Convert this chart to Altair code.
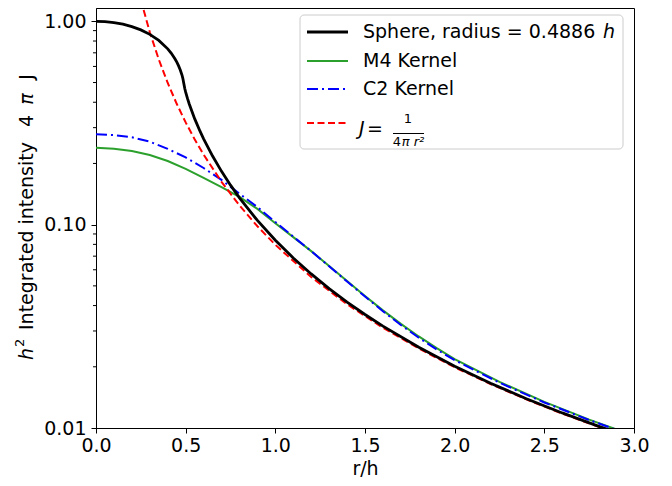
import altair as alt
import pandas as pd

# ---------------- data ----------------
r_sphere = [0.0, 0.05, 0.1, 0.15, 0.2, 0.25, 0.3, 0.35, 0.4, 0.42, 0.44, 0.45, 0.46,
            0.47, 0.48, 0.485, 0.4886, 0.495, 0.5, 0.51, 0.52, 0.55, 0.58, 0.6, 0.65,
            0.7, 0.75, 0.8, 0.9, 1.0, 1.1, 1.2, 1.3, 1.4, 1.5, 1.6, 1.8, 2.0, 2.2, 2.4,
            2.6, 2.8, 3.0]
j_sphere = [1.0, 0.9965, 0.9859, 0.968, 0.9421, 0.9076, 0.8629, 0.8059, 0.7322, 0.6962,
            0.6548, 0.6315, 0.6057, 0.5765, 0.5419, 0.5207, 0.5, 0.4672, 0.4485, 0.4176,
            0.3919, 0.3322, 0.2881, 0.2643, 0.2174, 0.1829, 0.1564, 0.1355, 0.1049,
            0.0838, 0.06861, 0.05724, 0.0485, 0.04164, 0.03615, 0.03169, 0.02493,
            0.02014, 0.01661, 0.01393, 0.01186, 0.01021, 0.00889]

r_kernel = [0.0, 0.1, 0.2, 0.3, 0.4, 0.5, 0.6, 0.7, 0.8, 0.9, 1.0, 1.1, 1.2, 1.3, 1.4,
            1.5, 1.6, 1.7, 1.8, 1.9, 2.0, 2.25, 2.5, 2.75, 3.0]
j_m4 = [0.2387, 0.2365, 0.23, 0.22, 0.2055, 0.188, 0.17, 0.153, 0.137, 0.1195, 0.1017,
        0.0868, 0.0741, 0.0626, 0.0528, 0.0446, 0.0379, 0.0325, 0.0282, 0.0247, 0.02184,
        0.016848, 0.013443, 0.010994, 0.009167]
j_c2 = [0.2785, 0.2755, 0.269, 0.256, 0.236, 0.214, 0.19, 0.166, 0.142, 0.122, 0.103,
        0.0873, 0.0741, 0.0624, 0.0525, 0.0443, 0.0375, 0.0321, 0.0278, 0.0243, 0.02157,
        0.0167, 0.013352, 0.010936, 0.009128]

r_point = [0.25, 0.3, 0.35, 0.4, 0.45, 0.5, 0.55, 0.6, 0.7, 0.8, 0.9, 1.0, 1.2, 1.4, 1.6,
           1.8, 2.0, 2.2, 2.4, 2.6, 2.8, 3.0]
j_point = [1.2732, 0.8842, 0.6496, 0.4974, 0.393, 0.3183, 0.2631, 0.221, 0.1624, 0.1243,
           0.0982, 0.0796, 0.0553, 0.0406, 0.0311, 0.0246, 0.0199, 0.01644, 0.01382,
           0.01177, 0.01015, 0.00884]

x_ticks = [0.0, 0.5, 1.0, 1.5, 2.0, 2.5, 3.0]
y_major = [0.01, 0.1, 1.0]
y_minor = [0.02, 0.03, 0.04, 0.05, 0.06, 0.07, 0.08, 0.09,
           0.2, 0.3, 0.4, 0.5, 0.6, 0.7, 0.8, 0.9]

legend_labels = ["Sphere, radius = 0.4886", "M4 Kernel", "C2 Kernel"]

# ---------------- styling ----------------
FONT = "DejaVu Sans"
FS = 19
W, H = 538, 420

xs = alt.Scale(domain=[0, 3], nice=False, zero=False)
ys = alt.Scale(type="log", domain=[0.01, 1.1628], nice=False)

x_axis = alt.Axis(values=x_ticks, format=".1f", title="r/h", grid=False, tickSize=5,
                  labelPadding=3, labelFlush=False, labelFont=FONT, labelFontSize=FS,
                  titleFont=FONT, titleFontSize=FS, titleFontWeight="normal",
                  titlePadding=4, domainColor="black", tickColor="black",
                  labelColor="black", titleColor="black")
y_axis = alt.Axis(values=y_major, format=".2f", title=None, grid=False, tickSize=5,
                  labelPadding=5, labelFont=FONT, labelFontSize=FS, labelOverlap=False,
                  domainColor="black", tickColor="black", labelColor="black")


def curve(r, j, color, width, dash=None):
    df = pd.DataFrame({"r": r, "j": j})
    kw = dict(color=color, strokeWidth=width, clip=True)
    if dash:
        kw["strokeDash"] = dash
    return alt.Chart(df).mark_line(**kw).encode(
        x=alt.X("r:Q", scale=xs, axis=x_axis),
        y=alt.Y("j:Q", scale=ys, axis=y_axis),
    )


GREEN = "#2ca02c"
BLUE = "#0000ff"
RED = "#ff0000"
DASH_RED = [7, 3.5]
DASH_BLUE = [11, 4, 2, 4]

m4 = curve(r_kernel, j_m4, GREEN, 2)
c2 = curve(r_kernel, j_c2, BLUE, 2, DASH_BLUE)
point = curve(r_point, j_point, RED, 2, DASH_RED)
sphere = curve(r_sphere, j_sphere, "black", 2.8)

minor = alt.Chart(pd.DataFrame({"j": y_minor})).mark_rule(color="black", strokeWidth=1).encode(
    y=alt.Y("j:Q", scale=ys, axis=y_axis),
    x=alt.value(-3),
    x2=alt.value(0),
)

one = alt.Data(values=[{"a": 1}])


def vtext(txt, x, y, size=FS, style="normal", align="left"):
    return alt.Chart(one).mark_text(text=txt, font=FONT, fontSize=size, fontStyle=style,
                                    angle=270, align=align, baseline="middle",
                                    color="black").encode(x=alt.value(x), y=alt.value(y))


# y-axis title built from text pieces (mathtext-like)
ytitle = [
    vtext("h", -69, 352, style="italic"),
    vtext("2", -76, 339, size=13),
    vtext("Integrated intensity", -69, 322),
    vtext("4", -69, 113, align="center"),
    vtext("π", -69, 91, style="italic", align="center"),
    vtext("J", -69, 69, align="center"),
]

# legend
box = alt.Chart(one).mark_rect(fill="white", fillOpacity=0.8, stroke="#cccccc",
                               strokeWidth=1, cornerRadius=4).encode(
    x=alt.value(204), x2=alt.value(527), y=alt.value(7), y2=alt.value(141))


def sample(y, color, width, dash=None):
    kw = dict(color=color, strokeWidth=width)
    if dash:
        kw["strokeDash"] = dash
    return alt.Chart(one).mark_rule(**kw).encode(
        x=alt.value(211), x2=alt.value(252), y=alt.value(y))


def label(txt, x, y, size=FS, style="normal", align="left"):
    return alt.Chart(one).mark_text(text=txt, font=FONT, fontSize=size, fontStyle=style,
                                    align=align, baseline="middle", color="black").encode(
        x=alt.value(x), y=alt.value(y))


legend = [
    box,
    sample(24, "black", 2.8), label(legend_labels[0], 267, 24),
    label("h", 519, 24, style="italic", align="right"),
    sample(53, GREEN, 2), label(legend_labels[1], 267, 53),
    sample(81, BLUE, 2, DASH_BLUE), label(legend_labels[2], 267, 81),
    sample(115, RED, 2, DASH_RED),
    label("J", 263, 121, style="italic"),
    label("=", 279, 121, align="center"),
    label("1", 312, 111, size=13, align="center"),
    alt.Chart(one).mark_rule(color="black", strokeWidth=1).encode(
        x=alt.value(297), x2=alt.value(328), y=alt.value(125.5)),
    label("4", 301, 134, size=13, align="center"),
    label("π r²", 317, 134, size=13, style="italic", align="center"),
]

chart = alt.layer(m4, c2, point, sphere, minor, *ytitle, *legend).properties(
    width=W, height=H,
    autosize=alt.AutoSizeParams(type="none"),
    padding={"left": 88, "top": 0, "right": 30, "bottom": 50},
).configure_view(stroke="black", strokeWidth=1)

chart.save("out.html", embed_options={"renderer": "svg", "actions": False})
